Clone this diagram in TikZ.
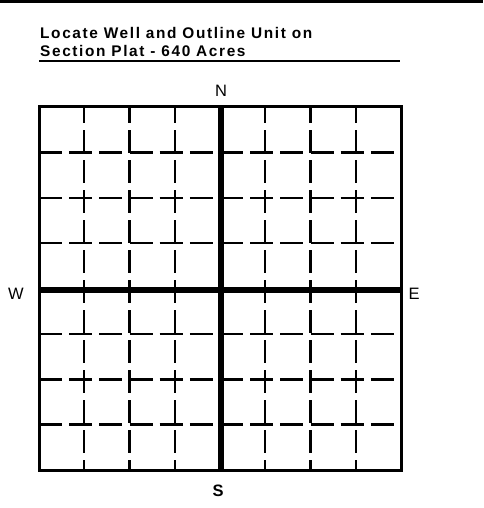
\documentclass[tikz,border=0pt]{standalone}
\usepackage{fontspec}
\setmainfont{Liberation Sans}
\newfontfamily\titlefont[LetterSpace=10.5]{Liberation Sans}
\begin{document}
\begin{tikzpicture}[x=1pt,y=-1pt,
  frame/.style={line width=3pt},
  hgrid/.style={line width=2.4pt, dash pattern=on 23pt off 7.17pt},
  vgrid/.style={line width=2.4pt, dash pattern=on 23pt off 7pt, dash phase=7pt},
  vaxis/.style={line width=5.5pt},
  haxis/.style={line width=6.5pt},
  ttl/.style={anchor=base west, inner sep=0pt, font=\titlefont\bfseries\fontsize{15.4}{18}\selectfont},
  lbl/.style={inner sep=0pt, font=\fontsize{16.5}{19}\selectfont}]
\useasboundingbox (0,0) rectangle (483,508);
\fill[white] (0,0) rectangle (483,508);
\draw[line width=3pt] (0,1.5) -- (483,1.5);
\node[ttl] (t1) at (40,39) {Locate Well and Outline Unit on};
\node[ttl] (t2) at (40,56.5) {Section Plat - 640 Acres};
\draw[line width=2.2pt] (39,61) -- (400,61);
\foreach \y in {152.4,197.8,243.1,333.9,379.3,424.6}
  \draw[hgrid] (39,\y) -- (401,\y);
\foreach \x in {84.25,129.5,174.75,265.25,310.5,355.75}
  \draw[vgrid] (\x,107) -- (\x,470);
\draw[vaxis] (221,107) -- (221,470);
\draw[haxis] (39,290) -- (401,290);
\draw[frame] (39,107) rectangle (401,470);
\node[lbl] (n) at (221,91) {N};
\node[lbl] (w) at (16,294) {W};
\node[lbl] (e) at (414,294) {E};
\node[lbl, font=\bfseries\fontsize{16.5}{19}\selectfont] (s) at (218,491) {S};
\end{tikzpicture}
\end{document}
